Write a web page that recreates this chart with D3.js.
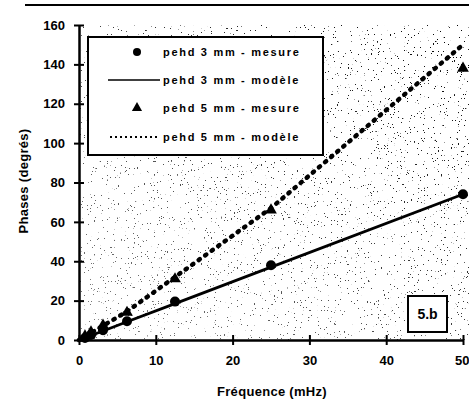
<!DOCTYPE html>
<html>
<head>
<meta charset="utf-8">
<script src="https://cdn.jsdelivr.net/npm/d3@7"></script>
<style>
  body { margin: 0; background: #fff; }
  svg { display: block; font-family: "Liberation Sans", Arial, sans-serif; font-weight: bold; }
</style>
</head>
<body>
<svg width="469" height="400"></svg>
<script>
// measured points (frequency in MHz, phase in degrees)
const freqMes = [0.78, 1.56, 3.125, 6.25, 12.5, 25, 50];
const mes3mm = [1, 2.5, 5, 9.5, 19.5, 38, 74];
const mes5mm = [2, 4, 7.5, 14, 31, 66, 138];

// model curves
const freqModel = [0, 0.78, 1.56, 3.125, 6.25, 12.5, 25, 50];
const model3mm = [0, 1.2, 2.3, 4.6, 9.3, 18.5, 37, 74];
const model5mm = [0, 1.8, 3.6, 7.2, 14.5, 32, 67, 150];

const xTicks = [0, 10, 20, 30, 40, 50];
const yTicks = [0, 20, 40, 60, 80, 100, 120, 140, 160];
const legendLabels = [
  "pehd 3 mm - mesure",
  "pehd 3 mm - modèle",
  "pehd 5 mm - mesure",
  "pehd 5 mm - modèle"
];

const svg = d3.select("svg");
const plotLeft = 79, plotRight = 463, plotTop = 25, plotBottom = 340;

const x = d3.scaleLinear().domain([0, 50]).range([plotLeft, plotRight]);
const y = d3.scaleLinear().domain([0, 160]).range([plotBottom, plotTop]);

// speckled background (scanned-paper look)
const defs = svg.append("defs");
const f = defs.append("filter").attr("id", "speck")
  .attr("x", 0).attr("y", 0).attr("width", 1).attr("height", 1);
f.append("feTurbulence").attr("type", "fractalNoise")
  .attr("baseFrequency", 0.7).attr("numOctaves", 2).attr("seed", 7);
f.append("feColorMatrix").attr("type", "matrix")
  .attr("values", "0 0 0 0 0  0 0 0 0 0  0 0 0 0 0  40 0 0 0 -28.4");
const grad = defs.append("linearGradient").attr("id", "fade")
  .attr("x1", 0).attr("y1", 1).attr("x2", 1).attr("y2", 0);
grad.append("stop").attr("offset", 0).attr("stop-color", "#fff").attr("stop-opacity", 0.5);
grad.append("stop").attr("offset", 1).attr("stop-color", "#fff").attr("stop-opacity", 1);
defs.append("mask").attr("id", "fadeMask")
  .append("rect").attr("x", plotLeft).attr("y", plotTop)
  .attr("width", plotRight - plotLeft + 6).attr("height", plotBottom - plotTop)
  .attr("fill", "url(#fade)");

svg.append("rect")
  .attr("x", plotLeft).attr("y", plotTop)
  .attr("width", plotRight - plotLeft + 6).attr("height", plotBottom - plotTop)
  .attr("filter", "url(#speck)")
  .attr("mask", "url(#fadeMask)");

// top rule
svg.append("line")
  .attr("x1", 25).attr("x2", 469).attr("y1", 5).attr("y2", 5)
  .attr("stroke", "#000").attr("stroke-width", 2);

// legend box
const lg = svg.append("g");
lg.append("rect")
  .attr("x", 88).attr("y", 37).attr("width", 235).attr("height", 118)
  .attr("fill", "#fff").attr("stroke", "#000").attr("stroke-width", 2);
const rowY = [52, 80, 108, 137];
lg.append("circle").attr("cx", 137).attr("cy", rowY[0]).attr("r", 4).attr("fill", "#000");
lg.append("line").attr("x1", 108).attr("x2", 160).attr("y1", rowY[1]).attr("y2", rowY[1])
  .attr("stroke", "#000").attr("stroke-width", 1.5);
lg.append("path").attr("d", d3.symbol(d3.symbolTriangle, 45)())
  .attr("transform", `translate(137,${rowY[2]})`);
lg.append("line").attr("x1", 110).attr("x2", 160).attr("y1", rowY[3]).attr("y2", rowY[3])
  .attr("stroke", "#000").attr("stroke-width", 2).attr("stroke-dasharray", "2 3");
lg.selectAll("text.leg")
  .data(legendLabels)
  .enter()
  .append("text")
  .attr("class", "leg")
  .attr("x", 163)
  .attr("y", (d, i) => rowY[i] + 4)
  .attr("font-size", 11)
  .attr("letter-spacing", 1.7)
  .text((d) => d);

// model lines
const line = d3.line().x((d) => x(d[0])).y((d) => y(d[1]));
svg.append("path")
  .datum(freqModel.map((v, i) => [v, model3mm[i]]))
  .attr("d", line)
  .attr("fill", "none").attr("stroke", "#000").attr("stroke-width", 2.8);
svg.append("path")
  .datum(freqModel.map((v, i) => [v, model5mm[i]]))
  .attr("d", line)
  .attr("fill", "none").attr("stroke", "#000").attr("stroke-width", 4.5)
  .attr("stroke-linecap", "round").attr("stroke-dasharray", "1.5 6.5");

// measured points
svg.selectAll("circle.m3")
  .data(freqMes.map((v, i) => [v, mes3mm[i]]))
  .enter()
  .append("circle")
  .attr("class", "m3")
  .attr("cx", (d) => x(d[0]))
  .attr("cy", (d) => y(d[1]))
  .attr("r", 5)
  .attr("fill", "#000");
svg.selectAll("path.m5")
  .data(freqMes.map((v, i) => [v, mes5mm[i]]))
  .enter()
  .append("path")
  .attr("class", "m5")
  .attr("d", d3.symbol(d3.symbolTriangle, 60)())
  .attr("transform", (d) => `translate(${x(d[0])},${y(d[1])})`)
  .attr("fill", "#000");

// axes
const xAxis = svg.append("g")
  .attr("transform", `translate(0,${plotBottom})`)
  .call(d3.axisBottom(x).tickValues(xTicks).tickSize(5).tickSizeOuter(0).tickPadding(11));
xAxis.selectAll(".tick line").attr("y1", -5).attr("stroke-width", 2);
const yAxis = svg.append("g")
  .attr("transform", `translate(${plotLeft},0)`)
  .call(d3.axisLeft(y).tickValues(yTicks).tickSize(5).tickSizeOuter(0).tickPadding(9));
yAxis.selectAll(".tick line").attr("x1", 5).attr("stroke-width", 2);
svg.selectAll(".domain").attr("stroke-width", 2.5);
svg.selectAll(".tick text")
  .attr("font-size", 13).attr("font-weight", "bold")
  .attr("font-family", "Liberation Sans, Arial, sans-serif")
  .attr("fill", "#000");
// last x label sits at the right edge of the page
xAxis.selectAll(".tick text").filter((d) => d === 50)
  .attr("text-anchor", "end").attr("dx", 6);

// "5.b" tag
svg.append("rect")
  .attr("x", 408).attr("y", 296).attr("width", 39).attr("height", 36)
  .attr("fill", "#fff").attr("stroke", "#000").attr("stroke-width", 2);
svg.append("text")
  .attr("x", 427.5).attr("y", 319)
  .attr("text-anchor", "middle").attr("font-size", 14)
  .text("5.b");

// axis titles
svg.append("text")
  .attr("x", 272).attr("y", 396)
  .attr("text-anchor", "middle").attr("font-size", 13)
  .attr("letter-spacing", 0.3)
  .text("Fréquence (mHz)");
svg.append("text")
  .attr("transform", "translate(28,181) rotate(-90)")
  .attr("text-anchor", "middle").attr("font-size", 13)
  .attr("letter-spacing", 0.3)
  .text("Phases (degrés)");
</script>
</body>
</html>
